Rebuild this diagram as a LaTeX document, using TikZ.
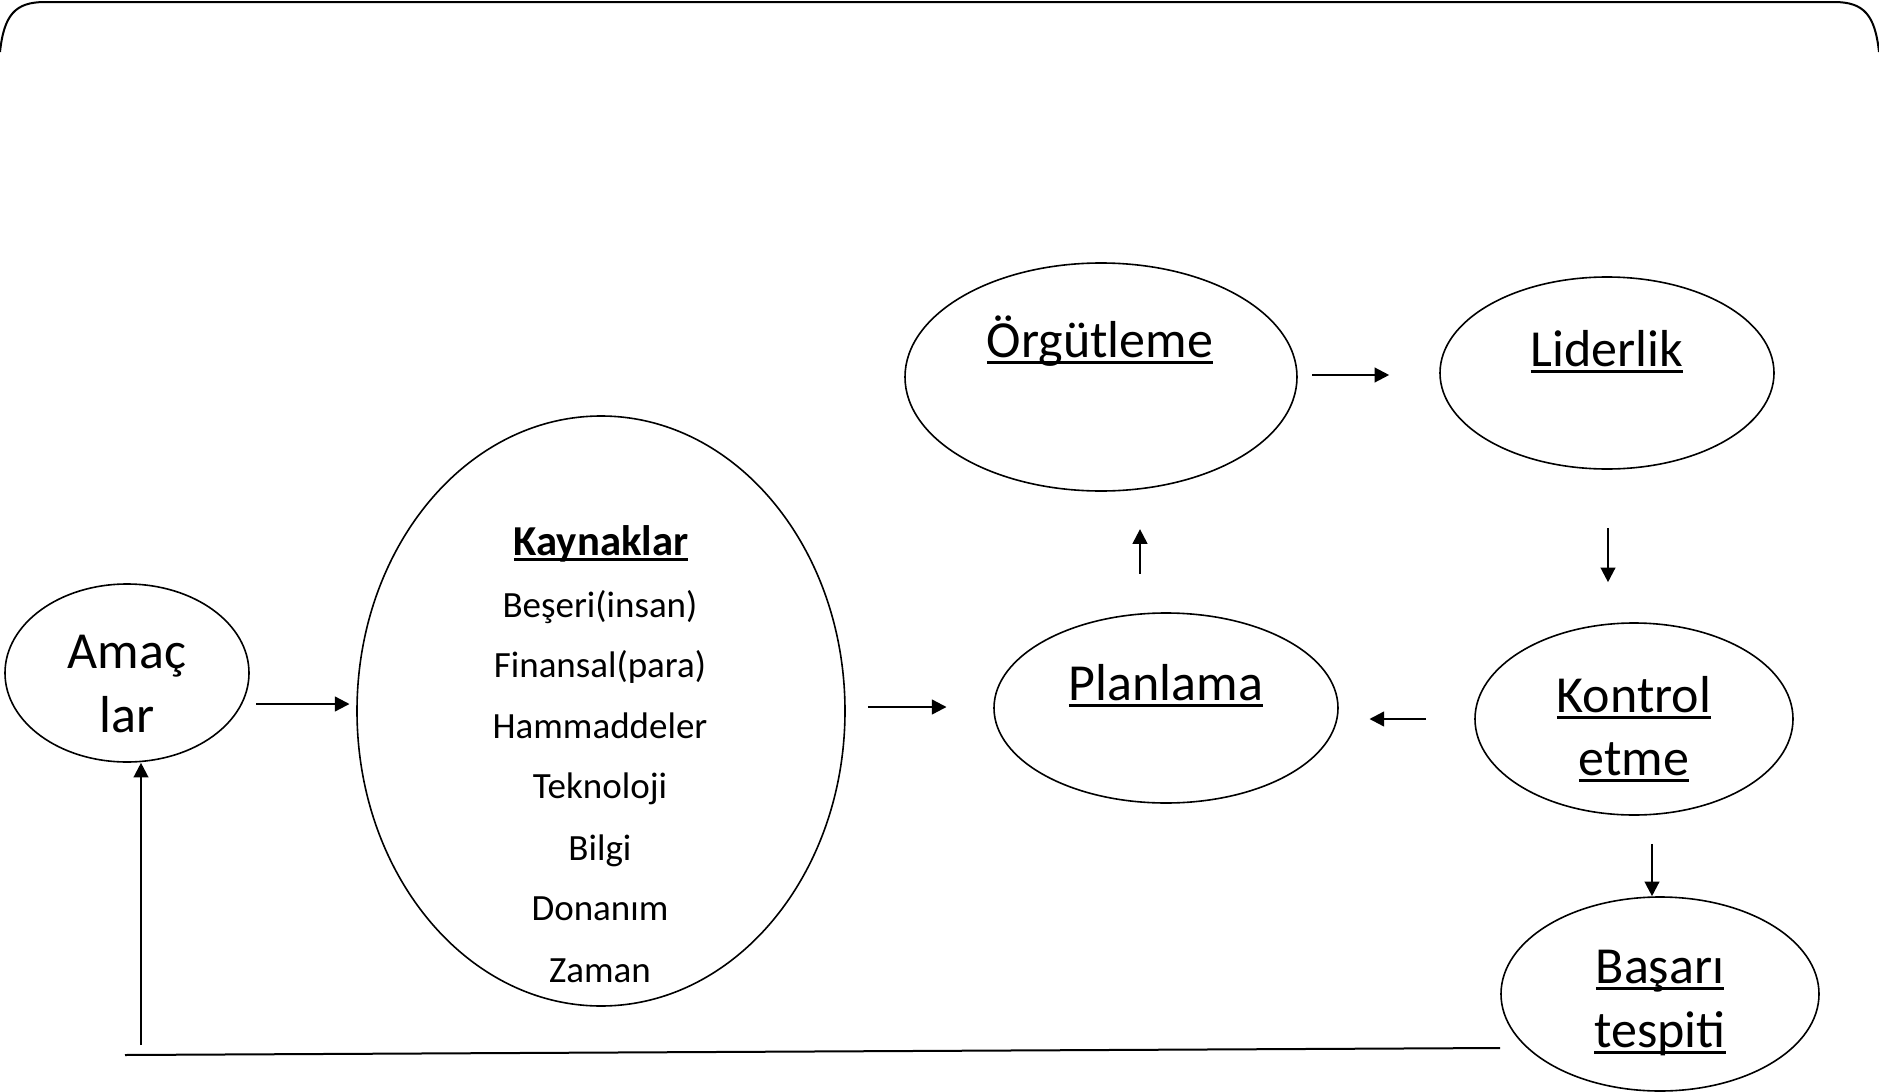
\documentclass[tikz,border=0pt]{standalone}
\usepackage{fontspec}
\setmainfont{Carlito}
\usetikzlibrary{arrows.meta,shapes.geometric}

% underline drawn close to the baseline
\newcommand{\ulin}[1]{\setbox0=\hbox{#1}\rlap{\vrule height -0.075em depth 0.135em width \wd0}\box0}

\tikzset{every picture/.style={line width=0.75pt}}
\tikzset{
  oval/.style={draw, ellipse, line width=1.2pt, inner sep=0pt},
  arr/.style={line width=1.7pt, -{Triangle[length=11pt,width=11pt]}},
  bigtxt/.style={font=\fontsize{39}{47}\selectfont, inner sep=0pt, anchor=base},
  listtxt/.style={font=\fontsize{27.75}{33}\selectfont, inner sep=0pt, anchor=base},
  titletxt/.style={font=\fontsize{32}{38}\selectfont\bfseries, inner sep=0pt, anchor=base},
}

\begin{document}
\begin{tikzpicture}[x=0.75pt,y=0.75pt,yscale=-1,xscale=1]
\useasboundingbox (0,0) rectangle (1879,1092);

%Shape: Frame top
\draw [line width=1.5pt] (0,52) .. controls (4,15) and (15,2) .. (45,2) -- (1834,2) .. controls (1864,2) and (1875,15) .. (1879,52) ;

%Shape: Ellipse
\node [oval, minimum width=183pt, minimum height=133.5pt] (amac) at (127,673) {};
%Shape: Ellipse
\node [oval, minimum width=366pt, minimum height=442.5pt] (kaynak) at (601,711) {};
%Shape: Ellipse
\node [oval, minimum width=258pt, minimum height=142.5pt] (plan) at (1166,708) {};
%Shape: Ellipse
\node [oval, minimum width=294pt, minimum height=171pt] (org) at (1101,377) {};
%Shape: Ellipse
\node [oval, minimum width=250.5pt, minimum height=144pt] (lider) at (1607,373) {};
%Shape: Ellipse
\node [oval, minimum width=238.5pt, minimum height=144pt] (kontrol) at (1634,719) {};
%Shape: Ellipse
\node [oval, minimum width=238.5pt, minimum height=145.5pt] (basari) at (1660,994) {};

% Text Node
\node [bigtxt] (amac1) at (127,668) {Amaç};
\node [bigtxt] (amac2) at (127,732) {lar};
% Text Node
\node [titletxt] (kaynakbas) at (601,555) {\ulin{Kaynaklar}};
\node [listtxt] (beseri) at (600,617) {Beşeri(insan)};
\node [listtxt] (finans) at (600,677) {Finansal(para)};
\node [listtxt] (hamm) at (600,738) {Hammaddeler};
\node [listtxt] (tekno) at (600,798) {Teknoloji};
\node [listtxt] (bilgi) at (600,860) {Bilgi};
\node [listtxt] (donanim) at (600,920) {Donanım};
\node [listtxt] (zaman) at (600,982) {Zaman};
% Text Node
\node [bigtxt] (plantxt) at (1166,700) {\ulin{Planlama}};
\node [bigtxt] (orgtxt) at (1100,357) {\ulin{Örgütleme}};
\node [bigtxt] (lidertxt) at (1607,366) {\ulin{Liderlik}};
\node [bigtxt] (kontrol1) at (1634,712) {\ulin{Kontrol}};
\node [bigtxt] (kontrol2) at (1634,775) {\ulin{etme}};
\node [bigtxt] (basari1) at (1660,983) {\ulin{Başarı}};
\node [bigtxt] (basari2) at (1660,1047) {\ulin{tespiti}};

%Straight Lines
\draw [arr, shorten <=5pt, shorten >=5pt] (amac.east |- 0,704) -- (kaynak.west |- 0,704) ;
\draw [arr, shorten <=16.5pt, shorten >=35pt] (kaynak.east |- 0,707) -- (plan.west |- 0,707) ;
\draw [arr, shorten <=29pt, shorten >=28pt] (plan.north -| 1140,0) -- (org.south -| 1140,0) ;
\draw [arr, shorten <=11pt, shorten >=37.5pt] (org.east |- 0,375) -- (lider.west |- 0,375) ;
\draw [arr, shorten <=44pt, shorten >=30pt] (lider.south -| 1608,0) -- (kontrol.north -| 1608,0) ;
\draw [arr, shorten <=36pt, shorten >=23pt] (kontrol.west |- 0,719) -- (plan.east |- 0,719) ;
\draw [arr, shorten <=21pt] (kontrol.south -| 1652,0) -- (basari.north -| 1652,0) ;

%Straight Lines: feedback
\coordinate (fbk) at (125,1055);
\draw [line width=1.5pt] (basari.west |- 0,1048) -- (fbk) ;
\draw [arr] ([xshift=12pt,yshift=-7.5pt]fbk) -- (amac.south -| 141,0) ;
\end{tikzpicture}
\end{document}
